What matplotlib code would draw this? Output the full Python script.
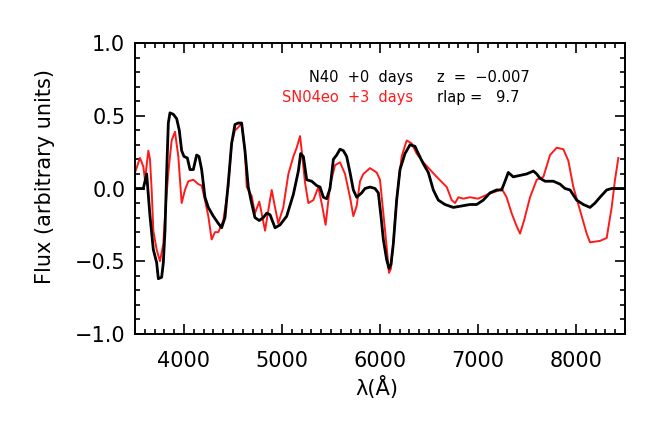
import matplotlib
matplotlib.use("Agg")
import matplotlib.pyplot as plt
from matplotlib.ticker import MultipleLocator

# Template / observed spectra (wavelength in Angstrom, flux in arbitrary units)
wave_n40 = [3500, 3585, 3619, 3653, 3687, 3721, 3738, 3772, 3789, 3806, 3823, 3840, 3857,
            3891, 3925, 3952, 3976, 4000, 4034, 4061, 4095, 4129, 4153, 4180, 4214, 4248,
            4299, 4350, 4384, 4418, 4452, 4486, 4520, 4554, 4588, 4622, 4656, 4690, 4724,
            4768, 4809, 4844, 4878, 4929, 4980, 5048, 5116, 5167, 5190, 5218, 5252, 5303,
            5354, 5388, 5422, 5456, 5490, 5524, 5558, 5592, 5626, 5660, 5694, 5728, 5762,
            5813, 5847, 5898, 5949, 5983, 6010, 6034, 6068, 6092, 6112, 6136, 6170, 6204,
            6255, 6306, 6357, 6391, 6442, 6493, 6544, 6595, 6663, 6748, 6833, 6918, 6986,
            7054, 7122, 7190, 7241, 7276, 7309, 7360, 7429, 7497, 7565, 7599, 7633, 7684,
            7769, 7837, 7888, 7939, 8007, 8075, 8143, 8194, 8245, 8313, 8364, 8500]
flux_n40 = [0.00, 0.00, 0.10, -0.19, -0.42, -0.51, -0.62, -0.61, -0.51, -0.29, 0.11, 0.45, 0.52,
            0.51, 0.48, 0.40, 0.26, 0.22, 0.21, 0.13, 0.13, 0.23, 0.22, 0.13, -0.06, -0.13,
            -0.19, -0.24, -0.27, -0.20, 0.04, 0.31, 0.44, 0.45, 0.45, 0.26, 0.01, -0.10, -0.20,
            -0.22, -0.20, -0.17, -0.18, -0.27, -0.25, -0.19, -0.04, 0.12, 0.24, 0.22, 0.06, 0.05,
            0.02, 0.01, -0.06, -0.07, 0.00, 0.20, 0.23, 0.27, 0.26, 0.22, 0.11, -0.01, -0.06,
            -0.03, 0.00, 0.01, 0.00, -0.03, -0.19, -0.35, -0.49, -0.55, -0.52, -0.38, -0.08, 0.13,
            0.24, 0.30, 0.29, 0.24, 0.17, 0.11, -0.01, -0.08, -0.11, -0.13, -0.12, -0.11, -0.11,
            -0.08, -0.03, -0.01, -0.01, 0.05, 0.11, 0.08, 0.09, 0.10, 0.12, 0.10, 0.07, 0.05,
            0.05, 0.03, 0.00, -0.01, -0.08, -0.11, -0.13, -0.10, -0.06, -0.01, 0.00, 0.00]

wave_sn04eo = [3500, 3551, 3585, 3602, 3636, 3653, 3670, 3687, 3721, 3755, 3789, 3806, 3840,
               3874, 3908, 3942, 3976, 4010, 4044, 4095, 4146, 4180, 4214, 4248, 4282, 4316,
               4350, 4401, 4452, 4486, 4520, 4554, 4588, 4622, 4640, 4690, 4724, 4768, 4792,
               4827, 4860, 4895, 4929, 4962, 5013, 5065, 5116, 5150, 5184, 5201, 5235, 5269,
               5320, 5371, 5410, 5445, 5490, 5541, 5592, 5643, 5694, 5728, 5762, 5796, 5830,
               5898, 5966, 6000, 6034, 6068, 6092, 6112, 6136, 6170, 6221, 6272, 6323, 6374,
               6442, 6510, 6578, 6681, 6732, 6766, 6800, 6850, 6918, 7000, 7100, 7224, 7241,
               7292, 7343, 7395, 7429, 7470, 7531, 7599, 7667, 7735, 7803, 7871, 7922, 7973,
               8041, 8109, 8143, 8245, 8313, 8364, 8398, 8432]
flux_sn04eo = [0.11, 0.21, 0.15, 0.06, 0.26, 0.20, -0.01, -0.29, -0.42, -0.50, -0.38, -0.19, 0.11,
               0.33, 0.39, 0.22, -0.10, -0.01, 0.05, 0.06, 0.03, 0.02, -0.08, -0.19, -0.35, -0.30,
               -0.30, -0.22, 0.01, 0.31, 0.40, 0.42, 0.45, 0.26, 0.01, -0.05, -0.17, -0.09, -0.17,
               -0.29, -0.15, -0.01, -0.13, -0.24, -0.13, 0.10, 0.22, 0.28, 0.36, 0.26, 0.04, -0.10,
               -0.08, 0.01, -0.12, -0.25, 0.02, 0.16, 0.18, 0.10, -0.06, -0.19, -0.12, 0.05, 0.10,
               0.14, 0.11, 0.06, -0.17, -0.40, -0.58, -0.55, -0.37, -0.07, 0.22, 0.33, 0.31, 0.24,
               0.18, 0.13, 0.08, 0.01, -0.08, -0.10, -0.06, -0.07, -0.06, -0.07, -0.04, -0.01, 0.00,
               -0.06, -0.17, -0.26, -0.31, -0.22, -0.06, 0.06, 0.08, 0.23, 0.28, 0.27, 0.19, 0.01,
               -0.15, -0.31, -0.37, -0.36, -0.34, -0.13, 0.06, 0.21]

xticks = [4000, 5000, 6000, 7000, 8000]
yticks = [-1.0, -0.5, 0.0, 0.5, 1.0]
name_lines = ["N40  +0  days", "SN04eo  +3  days"]
stat_lines = ["z  =  \u22120.007", "rlap =   9.7"]

W, H = 667, 422
fig = plt.figure(figsize=(W / 100, H / 100), dpi=100)
ax = fig.add_axes([135 / W, (H - 334) / H, 490 / W, 291 / H])

ax.plot(wave_n40, flux_n40, color="black", lw=2.0, zorder=3)
ax.plot(wave_sn04eo, flux_sn04eo, color="#ff1a1a", lw=1.4, zorder=2)

ax.set_xlim(3500, 8500)
ax.set_ylim(-1.0, 1.0)
ax.set_xticks(xticks)
ax.set_xticklabels([str(t) for t in xticks])
ax.set_yticks(yticks)
ax.set_yticklabels(["\u22121.0", "\u22120.5", "0.0", "0.5", "1.0"])
ax.xaxis.set_minor_locator(MultipleLocator(100))
ax.yaxis.set_minor_locator(MultipleLocator(0.1))
ax.tick_params(which="both", direction="in", top=True, right=True, width=1.2, colors="black")
ax.tick_params(which="major", length=7)
ax.tick_params(which="minor", length=3.5)
ax.tick_params(axis="x", which="major", labelsize=15, pad=12)
ax.tick_params(axis="y", which="major", labelsize=15, pad=7)
for s in ax.spines.values():
    s.set_linewidth(1.4)

fig.text(45 / W, 1 - 177 / H, "Flux (arbitrary units)", rotation=90, ha="center", va="center",
         fontsize=15)
fig.text(377 / W, 1 - 387 / H, "\u03bb(\u00c5)", ha="center", va="center", fontsize=15)

ax.text(0.567, 0.880, name_lines[0], transform=ax.transAxes, ha="right", va="center",
        fontsize=10.5, color="black")
ax.text(0.567, 0.814, name_lines[1], transform=ax.transAxes, ha="right", va="center",
        fontsize=10.5, color="#ff1a1a")
ax.text(0.616, 0.880, stat_lines[0], transform=ax.transAxes, ha="left", va="center",
        fontsize=10.5, color="black")
ax.text(0.616, 0.814, stat_lines[1], transform=ax.transAxes, ha="left", va="center",
        fontsize=10.5, color="black")

fig.savefig("out.png", dpi=100)
